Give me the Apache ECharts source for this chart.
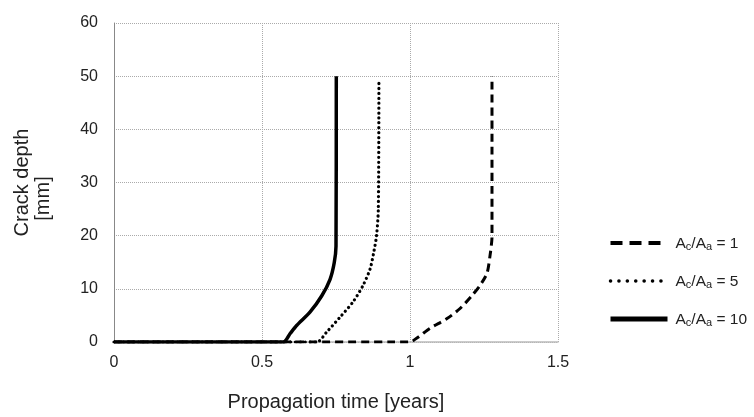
<!DOCTYPE html>
<html>
<head>
<meta charset="utf-8">
<script src="https://cdn.jsdelivr.net/npm/echarts@6/dist/echarts.min.js"></script>
<style>
  html, body { margin: 0; padding: 0; background: #fff; }
  #chart { width: 754px; height: 417px; }
</style>
</head>
<body>
<div id="chart"></div>
<script>
// 数据（从图上读出来的）
const names = ['1', '5', '10'];   // Ac/Aa

// Ac/Aa = 1 （虚线）
const t1 = [0, 1.0, 1.027, 1.068, 1.125, 1.169, 1.209, 1.236, 1.26, 1.27, 1.277, 1.277];
const d1 = [0, 0, 0.9, 2.6, 4.4, 6.3, 8.7, 10.6, 12.9, 16.1, 19.8, 50];

// Ac/Aa = 5 （点线）
const t5 = [0, 0.685, 0.719, 0.764, 0.807, 0.841, 0.865, 0.877, 0.887, 0.893, 0.895];
const d5 = [0, 0, 1.9, 4.7, 7.5, 10.6, 13.7, 16.7, 20, 25, 48.7];

// Ac/Aa = 10 （实线）
const t10 = [0, 0.572, 0.595, 0.617, 0.662, 0.702, 0.73, 0.744, 0.75, 0.751];
const d10 = [0, 0, 1.6, 3.1, 5.6, 8.7, 11.8, 14.9, 18, 50];

const xTicks = [0, 0.5, 1, 1.5];
const yTicks = [0, 10, 20, 30, 40, 50, 60];

const font = '"Liberation Sans", Arial, sans-serif';
const zip = (xs, ys) => xs.map((x, i) => [x, ys[i]]);

const chart = echarts.init(document.getElementById('chart'));

const lineStyles = [
  { color: '#000', width: 3, type: [8, 5] },                   // 虚线
  { color: '#000', width: 3.2, type: [0.1, 4.8], cap: 'round' }, // 点线
  { color: '#000', width: 3.5, type: 'solid' }                  // 实线
];
// 图例里的线稍粗，虚线/点线间隔更大
const legendLines = [
  { width: 4, type: [12, 7] },
  { width: 3.5, type: [0.1, 8.3], cap: 'round' },
  { width: 5, type: 'solid' }
];
const datas = [zip(t1, d1), zip(t5, d5), zip(t10, d10)];

const option = {
  animation: false,
  textStyle: { fontFamily: font },
  grid: { left: 114, right: 196, top: 23, bottom: 70 },
  legend: {
    orient: 'vertical',
    left: 603,
    top: 231,
    itemWidth: 57,
    itemHeight: 14,
    itemGap: 22,
    itemStyle: { opacity: 0 },
    data: names.map((n, i) => ({
      name: 'Ac/Aa = ' + n,
      lineStyle: legendLines[i]
    })),
    formatter: name => '{b|A}{s|c}{b|/A}{s|a}{b| = ' + name.split('= ')[1] + '}',
    textStyle: {
      padding: [0, 0, 0, 3],
      rich: {
        b: { fontSize: 15.5, color: '#222', fontFamily: font, verticalAlign: 'bottom', lineHeight: 18 },
        s: { fontSize: 11, color: '#222', fontFamily: font, verticalAlign: 'bottom', lineHeight: 13 }
      }
    }
  },
  xAxis: {
    type: 'value',
    min: 0, max: 1.5, interval: 0.5,
    name: 'Propagation time [years]',
    nameLocation: 'middle',
    nameGap: 50,
    nameTextStyle: { fontSize: 20, color: '#222', fontFamily: font },
    axisLine: { lineStyle: { color: '#bbb', width: 1.5 } },
    axisTick: { show: false },
    axisLabel: { fontSize: 16, color: '#222', margin: 13, formatter: v => xTicks.includes(v) ? String(v) : '' },
    splitLine: { show: true, lineStyle: { color: '#aaa', type: [1, 1], width: 1 } }
  },
  yAxis: {
    type: 'value',
    min: 0, max: 60, interval: 10,
    name: '{a|Crack depth}\n{m|[mm]}',
    nameLocation: 'middle',
    nameGap: 60,
    nameRotate: 90,
    nameTextStyle: {
      fontSize: 20, color: '#222', fontFamily: font, lineHeight: 21,
      rich: {
        a: { fontSize: 20, color: '#222', fontFamily: font, lineHeight: 21 },
        // "[mm]" 在原图里比第一行略偏下
        m: { fontSize: 20, color: '#222', fontFamily: font, lineHeight: 21, padding: [0, 32, 0, 0] }
      }
    },
    axisLine: { show: true, lineStyle: { color: '#888', width: 1 } },
    axisTick: { show: false },
    axisLabel: { fontSize: 16, color: '#222', margin: 16, formatter: v => yTicks.includes(v) ? String(v) : '' },
    splitLine: { show: true, lineStyle: { color: '#aaa', type: [1, 1], width: 1 } }
  },
  series: names.map((n, i) => ({
    name: 'Ac/Aa = ' + n,
    type: 'line',
    data: datas[i],
    smooth: 0.25,
    showSymbol: false,
    symbol: 'none',
    lineStyle: lineStyles[i],
    itemStyle: { color: '#000' },
    z: 2 + i
  }))
};

chart.setOption(option);
</script>
</body>
</html>
